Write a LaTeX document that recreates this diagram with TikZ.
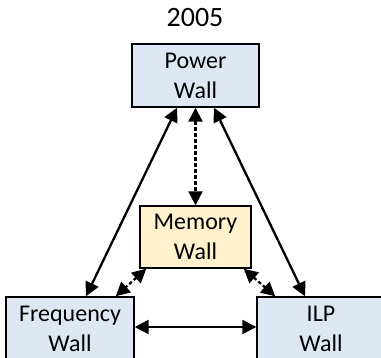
\documentclass[tikz,border=0pt]{standalone}
\usepackage{fontspec}
\setmainfont{Carlito}
\usetikzlibrary{arrows.meta}
\definecolor{wallblue}{HTML}{DEE8F5}
\definecolor{wallyellow}{HTML}{FFF2CC}
\tikzset{
  wall/.style={draw=black, line width=1.4pt, align=center, inner sep=0pt,
    font=\fontsize{24}{30}\selectfont, minimum height=63pt},
  arr/.style={line width=2.3pt, {Triangle[length=14pt,width=14pt]}-{Triangle[length=14pt,width=14pt]}},
  darr/.style={arr, dash pattern=on 3.5pt off 2.5pt},
}
\begin{document}
\begin{tikzpicture}[x=1pt,y=-1pt]
\useasboundingbox (0,0) rectangle (381,357);
\clip (0,0) rectangle (381,357);
\node[font=\fontsize{28}{32}\selectfont] (yr) at (195,18) {2005};
\node[wall, fill=wallblue, minimum width=127pt] (pw) at (195.5,75.5) {Power\\Wall};
\node[wall, fill=wallyellow, minimum width=111pt, minimum height=62pt] (mw) at (195.5,237) {Memory\\Wall};
\node[wall, fill=wallblue, minimum width=128pt] (fw) at (70,328.5) {Frequency\\Wall};
\node[wall, fill=wallblue, minimum width=128pt] (iw) at (321,328.5) {ILP\\Wall};
\draw[arr] ([xshift=-18.5pt]pw.south) -- ([xshift=16pt]fw.north);
\draw[arr] ([xshift=18.5pt]pw.south) -- ([xshift=-16pt]iw.north);
\draw[darr] (pw.south) -- (mw.north);
\draw[darr] ([xshift=7pt]mw.south west) -- ([xshift=-19pt]fw.north east);
\draw[darr] ([xshift=-8pt]mw.south east) -- ([xshift=19pt]iw.north west);
\draw[arr] ([yshift=1.5pt]fw.east) -- ([yshift=1.5pt]iw.west);
\end{tikzpicture}
\end{document}
